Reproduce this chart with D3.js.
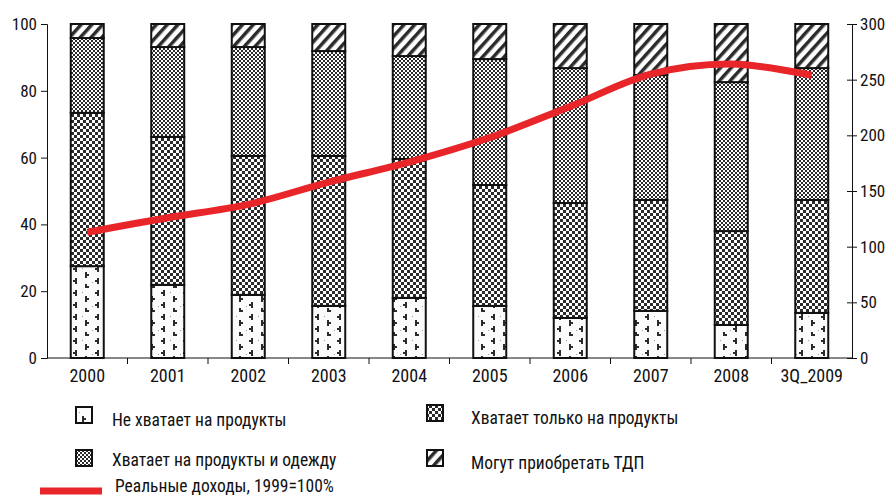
<!DOCTYPE html>
<html>
<head>
<meta charset="utf-8">
<script src="https://d3js.org/d3.v7.min.js"></script>
<style>
  body { margin: 0; background: #fff; }
  svg text { font-family: "Liberation Sans Narrow", "Arial Narrow", "Roboto Condensed", sans-serif; fill: #111; }
</style>
</head>
<body>
<div id="chart"></div>
<script>
// categories and shares (percent of households)
var years = ["2000", "2001", "2002", "2003", "2004", "2005", "2006", "2007", "2008", "3Q_2009"];
var notEnoughFood = [27.5, 21.9, 18.9, 15.6, 18.0, 15.6, 12.0, 14.1, 9.9, 13.5];
var foodOnly = [45.9, 44.3, 41.6, 44.9, 41.6, 36.2, 34.4, 33.2, 28.1, 33.8];
var foodAndClothes = [22.4, 26.9, 32.6, 31.4, 30.8, 37.7, 40.4, 37.4, 44.6, 39.5];
var durables = [4.2, 6.9, 6.9, 8.1, 9.6, 10.5, 13.2, 15.3, 17.4, 13.2];
var realIncome = [113, 126, 138, 158, 176, 198, 226, 255, 264, 254];

var seriesNames = ["Не хватает на продукты", "Хватает только на продукты", "Хватает на продукты и одежду", "Могут приобретать ТДП"];
var seriesData = [notEnoughFood, foodOnly, foodAndClothes, durables];
var incomeName = "Реальные доходы, 1999=100%";
var leftTicks = [0, 20, 40, 60, 80, 100];
var rightTicks = [0, 50, 100, 150, 200, 250, 300];

var width = 886, height = 496;
var margin = { top: 24, right: 34, bottom: 138, left: 47 };
var innerW = width - margin.left - margin.right;
var innerH = height - margin.top - margin.bottom;

var svg = d3.select("#chart").append("svg")
  .attr("width", width).attr("height", height);

// patterns
var defs = svg.append("defs");
var ink = "#2b2b2b";

var pDots = defs.append("pattern").attr("id", "p0").attr("patternUnits", "userSpaceOnUse")
  .attr("width", 22).attr("height", 24);
pDots.append("rect").attr("width", 22).attr("height", 24).attr("fill", "#fbfbfb");
[[5, 2], [19, 8], [5, 14], [19, 20]].forEach(function (p, i) {
  var x = p[0], y = p[1];
  var d = i % 2 === 0
    ? "M" + (x + 3) + "," + y + "h-2v2h-2v2h2v2h2z"
    : "M" + (x - 3) + "," + y + "h2v2h2v2h-2v2h-2z";
  pDots.append("path").attr("d", d).attr("fill", ink);
});
pDots.append("rect").attr("x", 13).attr("y", 4).attr("width", 1).attr("height", 1).attr("fill", "#999");
pDots.append("rect").attr("x", 1).attr("y", 18).attr("width", 1).attr("height", 1).attr("fill", "#999");

var pChk3 = defs.append("pattern").attr("id", "p1").attr("patternUnits", "userSpaceOnUse")
  .attr("width", 6).attr("height", 6);
pChk3.append("rect").attr("width", 6).attr("height", 6).attr("fill", "#fff");
pChk3.append("rect").attr("width", 3).attr("height", 3).attr("fill", ink);
pChk3.append("rect").attr("x", 3).attr("y", 3).attr("width", 3).attr("height", 3).attr("fill", ink);

var pChk2 = defs.append("pattern").attr("id", "p2").attr("patternUnits", "userSpaceOnUse")
  .attr("width", 4).attr("height", 4);
pChk2.append("rect").attr("width", 4).attr("height", 4).attr("fill", "#fff");
pChk2.append("rect").attr("width", 2).attr("height", 2).attr("fill", ink);
pChk2.append("rect").attr("x", 2).attr("y", 2).attr("width", 2).attr("height", 2).attr("fill", ink);

var pStripe = defs.append("pattern").attr("id", "p3").attr("patternUnits", "userSpaceOnUse")
  .attr("width", 8).attr("height", 8).attr("patternTransform", "rotate(42)");
pStripe.append("rect").attr("width", 8).attr("height", 8).attr("fill", "#fff");
pStripe.append("rect").attr("width", 3.5).attr("height", 8).attr("fill", ink);

var fills = ["url(#p0)", "url(#p1)", "url(#p2)", "url(#p3)"];

var g = svg.append("g").attr("transform", "translate(" + margin.left + "," + margin.top + ")");

// scales
var x = d3.scaleBand().domain(years).range([0, innerW]).paddingInner(0.59).paddingOuter(0.295);
var yL = d3.scaleLinear().domain([0, 100]).range([innerH, 0]);
var yR = d3.scaleLinear().domain([0, 300]).range([innerH, 0]);

// stacked bars
var table = years.map(function (yr, i) {
  var row = { year: yr };
  seriesData.forEach(function (s, k) { row["s" + k] = s[i]; });
  return row;
});
var stack = d3.stack().keys(["s0", "s1", "s2", "s3"])(table);

stack.forEach(function (layer, k) {
  g.append("g").selectAll("rect").data(layer).join("rect")
    .attr("x", function (d) { return x(d.data.year); })
    .attr("y", function (d) { return yL(Math.min(d[1], 100)); })
    .attr("width", x.bandwidth())
    .attr("height", function (d) { return yL(d[0]) - yL(Math.min(d[1], 100)); })
    .attr("fill", fills[k])
    .attr("stroke", "#111")
    .attr("stroke-width", 2);
});

// axes
var fontSize = "17px";
var xAxis = g.append("g").attr("transform", "translate(0," + innerH + ")");
xAxis.append("line").attr("x1", 0).attr("x2", innerW).attr("stroke", "#111");
var step = x.step();
xAxis.selectAll(".tk").data(d3.range(1, years.length)).join("line")
  .attr("x1", function (i) { return i * step; }).attr("x2", function (i) { return i * step; })
  .attr("y1", 0).attr("y2", 6).attr("stroke", "#111");
xAxis.selectAll("text").data(years).join("text")
  .attr("x", function (d) { return x(d) + x.bandwidth() / 2; })
  .attr("y", 24).attr("text-anchor", "middle").style("font-size", "18px")
  .text(function (d) { return d; });

var lAxis = g.append("g").call(d3.axisLeft(yL).tickValues(leftTicks).tickSize(6).tickPadding(4));
var rAxis = g.append("g").attr("transform", "translate(" + innerW + ",0)")
  .call(d3.axisRight(yR).tickValues(rightTicks).tickSize(5).tickPadding(3));
rAxis.selectAll(".tick line").attr("x1", -5);
[lAxis, rAxis].forEach(function (a) {
  a.select(".domain").attr("stroke", "#111");
  a.selectAll(".tick line").attr("stroke", "#111");
  a.selectAll("text").style("font-size", fontSize).style("font-family", null);
  a.attr("font-family", null);
});

// income line
var line = d3.line()
  .x(function (d, i) { return x(years[i]) + x.bandwidth() / 2; })
  .y(function (d) { return yR(d); })
  .curve(d3.curveCatmullRom.alpha(0.5));
g.append("path").attr("d", line(realIncome))
  .attr("fill", "none").attr("stroke", "#e8262a").attr("stroke-width", 7);

// legend
var legendSize = "17.5px";
var legend = svg.append("g");
var items = [
  { k: 0, x: 76, y: 407, ty: 426 }, { k: 1, x: 427, y: 405, ty: 424 },
  { k: 2, x: 76, y: 450, ty: 466 }, { k: 3, x: 427, y: 450, ty: 469 }
];
items.forEach(function (it) {
  legend.append("rect").attr("x", it.x).attr("y", it.y).attr("width", 16).attr("height", 16)
    .attr("fill", fills[it.k]).attr("stroke", "#111").attr("stroke-width", 2);
  legend.append("text").attr("x", it.k % 2 === 0 ? 112 : 471).attr("y", it.ty)
    .style("font-size", legendSize).text(seriesNames[it.k]);
});
legend.append("line").attr("x1", 40).attr("x2", 102).attr("y1", 491).attr("y2", 491)
  .attr("stroke", "#e8262a").attr("stroke-width", 7);
legend.append("text").attr("x", 115).attr("y", 492).style("font-size", legendSize).text(incomeName);
</script>
</body>
</html>
